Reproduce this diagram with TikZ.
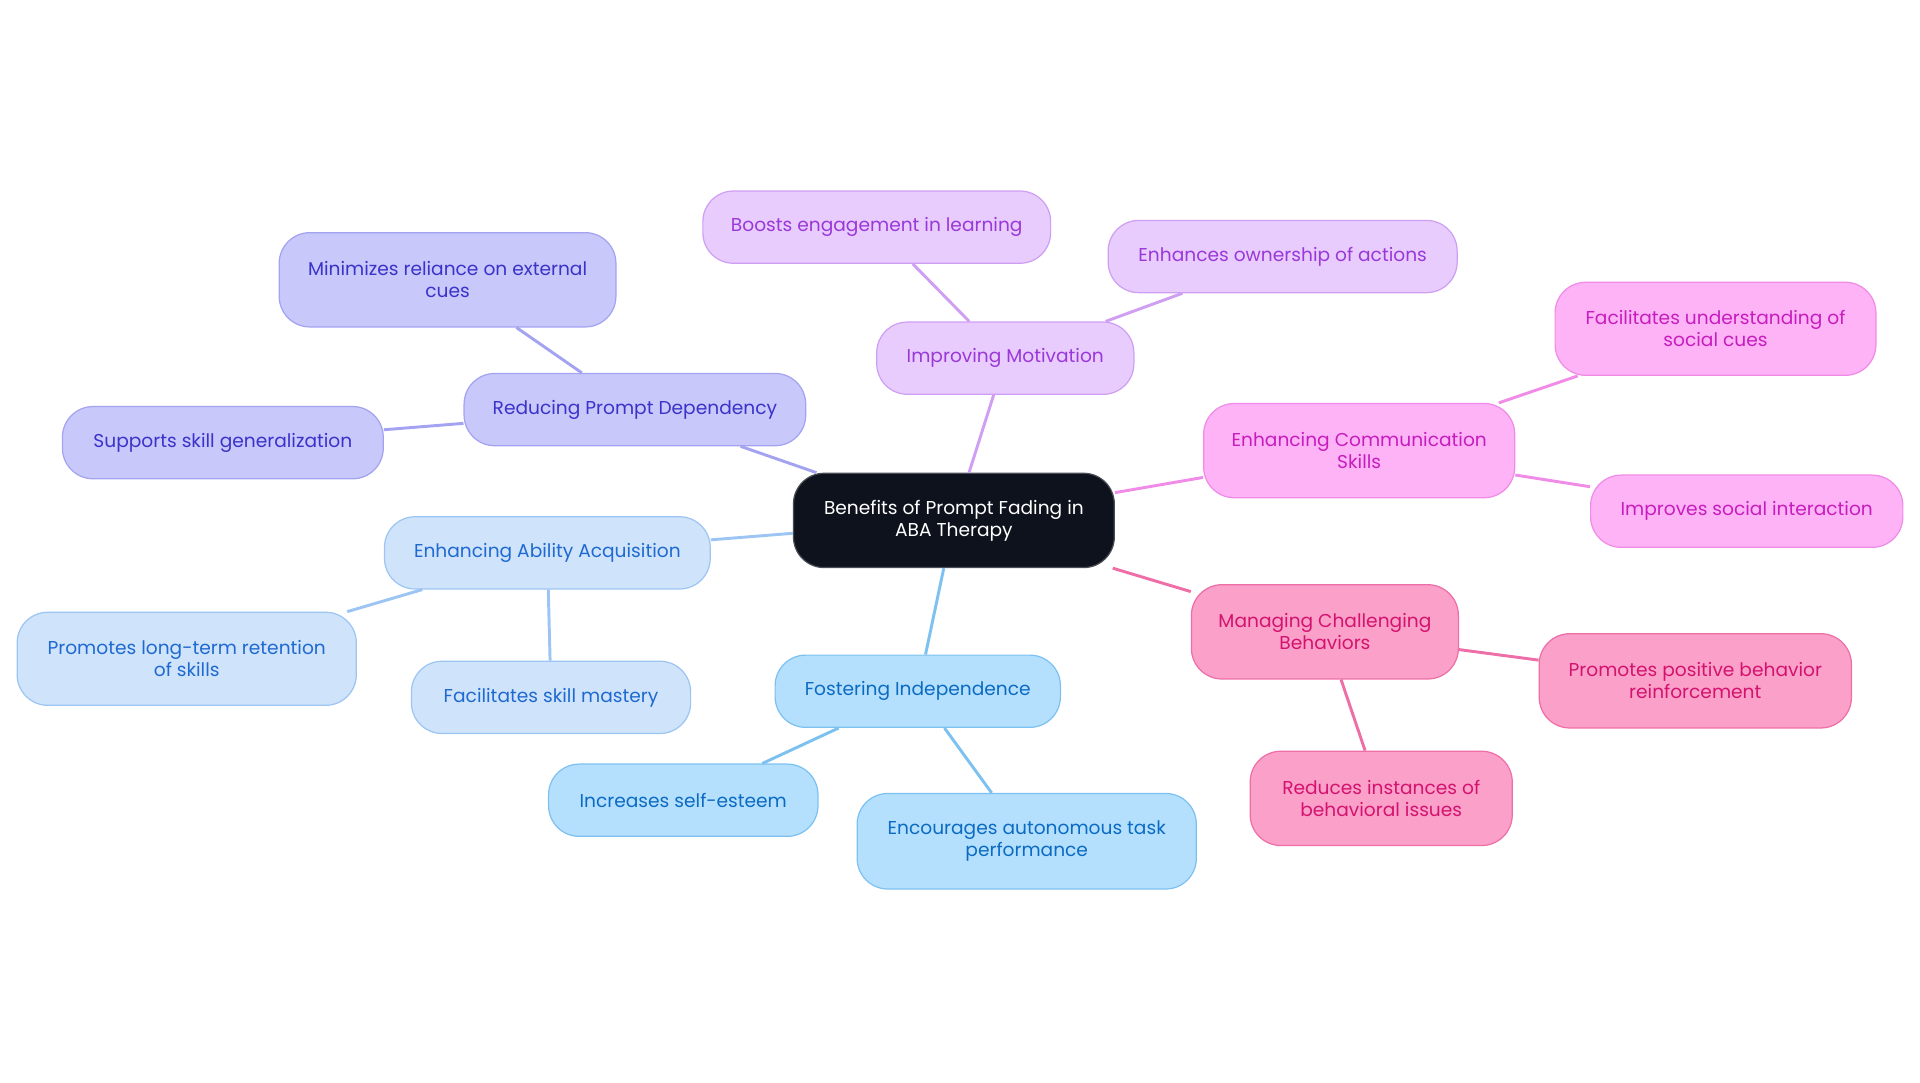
\documentclass[tikz,border=0pt]{standalone}
\usepackage{fontspec}
\setmainfont{Poppins}
\usepackage{tikz}
\usetikzlibrary{positioning, shapes.geometric, arrows}

\definecolor{ctrfill}{HTML}{0D121C}
\definecolor{redfill}{HTML}{C8C8FB}\definecolor{reddraw}{HTML}{A3A3F2}\definecolor{redtext}{HTML}{3A33C9}
\definecolor{abifill}{HTML}{CFE3FB}\definecolor{abidraw}{HTML}{9DC5F3}\definecolor{abitext}{HTML}{1F6AD0}
\definecolor{indfill}{HTML}{B5E0FD}\definecolor{inddraw}{HTML}{7DC1F1}\definecolor{indtext}{HTML}{0B6BC2}
\definecolor{motfill}{HTML}{E7CCFD}\definecolor{motdraw}{HTML}{CF9FF3}\definecolor{mottext}{HTML}{9B38D8}
\definecolor{comfill}{HTML}{FDB3F5}\definecolor{comdraw}{HTML}{F08CE8}\definecolor{comtext}{HTML}{C71DBF}
\definecolor{chafill}{HTML}{FBA0C9}\definecolor{chadraw}{HTML}{EE6FA8}\definecolor{chatext}{HTML}{D3136F}

\tikzset{
	bubble/.style={draw, rectangle, rounded corners=12.5pt, line width=0.5pt, align=center, inner sep=0pt, font=\fontsize{7.6}{9}\selectfont},
	ctrbox/.style={bubble, fill=ctrfill, draw=ctrfill!75!white, text=white},
	redbox/.style={bubble, fill=redfill, draw=reddraw, text=redtext},
	abibox/.style={bubble, fill=abifill, draw=abidraw, text=abitext},
	indbox/.style={bubble, fill=indfill, draw=inddraw, text=indtext},
	motbox/.style={bubble, fill=motfill, draw=motdraw, text=mottext},
	combox/.style={bubble, fill=comfill, draw=comdraw, text=comtext},
	chabox/.style={bubble, fill=chafill, draw=chadraw, text=chatext},
	link/.style={line width=1.2pt}
}

\begin{document}
\begin{tikzpicture}[x=0.5pt, y=-0.5pt]
		\useasboundingbox (0,0) rectangle (1568,884);
		%diagram
		\node[ctrbox, minimum width=131pt, minimum height=38.5pt] (benefits) at (779,425) {Benefits of Prompt Fading in\\ABA Therapy};

		\node[redbox, minimum width=139.5pt, minimum height=29.5pt] (reducing) at (518.5,334.5) {Reducing Prompt Dependency};
		\node[redbox, minimum width=137.5pt, minimum height=38.5pt] (reliance) at (365.5,228.5) {Minimizes reliance on external\\cues};
		\node[redbox, minimum width=131pt, minimum height=29.5pt] (generalize) at (182,361.5) {Supports skill generalization};

		\node[abibox, minimum width=133pt, minimum height=29.5pt] (ability) at (447,451.5) {Enhancing Ability Acquisition};
		\node[abibox, minimum width=138.5pt, minimum height=38pt] (retention) at (152.5,538) {Promotes long-term retention\\of skills};
		\node[abibox, minimum width=114pt, minimum height=29.5pt] (mastery) at (450,569.5) {Facilitates skill mastery};

		\node[indbox, minimum width=116.5pt, minimum height=29.5pt] (independence) at (749.5,564.5) {Fostering Independence};
		\node[indbox, minimum width=110pt, minimum height=29.5pt] (esteem) at (558,653.5) {Increases self-esteem};
		\node[indbox, minimum width=138.5pt, minimum height=39pt] (autonomous) at (838.5,687) {Encourages autonomous task\\performance};

		\node[motbox, minimum width=105pt, minimum height=29.5pt] (motivation) at (821,292.5) {Improving Motivation};
		\node[motbox, minimum width=142pt, minimum height=29.5pt] (engagement) at (716,185.5) {Boosts engagement in learning};
		\node[motbox, minimum width=142.5pt, minimum height=29.5pt] (ownership) at (1047.5,209.5) {Enhances ownership of actions};

		\node[combox, minimum width=127pt, minimum height=38.5pt] (communication) at (1110,368) {Enhancing Communication\\Skills};
		\node[combox, minimum width=131pt, minimum height=38pt] (cues) at (1401,268.5) {Facilitates understanding of\\social cues};
		\node[combox, minimum width=127.5pt, minimum height=29.5pt] (social) at (1426.5,417.5) {Improves social interaction};

		\node[chabox, minimum width=109pt, minimum height=38.5pt] (challenging) at (1082,516) {Managing Challenging\\Behaviors};
		\node[chabox, minimum width=127.5pt, minimum height=38.5pt] (positive) at (1384.5,556) {Promotes positive behavior\\reinforcement};
		\node[chabox, minimum width=107pt, minimum height=38.5pt] (issues) at (1128,652) {Reduces instances of\\behavioral issues};

		%links
		\draw[link, draw=reddraw] (benefits) -- (reducing);
		\draw[link, draw=reddraw] (reducing) -- (reliance);
		\draw[link, draw=reddraw] (reducing) -- (generalize);
		\draw[link, draw=abidraw] (benefits) -- (ability);
		\draw[link, draw=abidraw] (ability) -- (retention);
		\draw[link, draw=abidraw] (ability) -- (mastery);
		\draw[link, draw=inddraw] (benefits) -- (independence);
		\draw[link, draw=inddraw] (independence) -- (esteem);
		\draw[link, draw=inddraw] (independence) -- (autonomous);
		\draw[link, draw=motdraw] (benefits) -- (motivation);
		\draw[link, draw=motdraw] (motivation) -- (engagement);
		\draw[link, draw=motdraw] (motivation) -- (ownership);
		\draw[link, draw=comdraw] (benefits) -- (communication);
		\draw[link, draw=comdraw] (communication) -- (cues);
		\draw[link, draw=comdraw] (communication) -- (social);
		\draw[link, draw=chadraw] (benefits) -- (challenging);
		\draw[link, draw=chadraw] (challenging) -- (positive);
		\draw[link, draw=chadraw] (challenging) -- (issues);
\end{tikzpicture}
\end{document}
